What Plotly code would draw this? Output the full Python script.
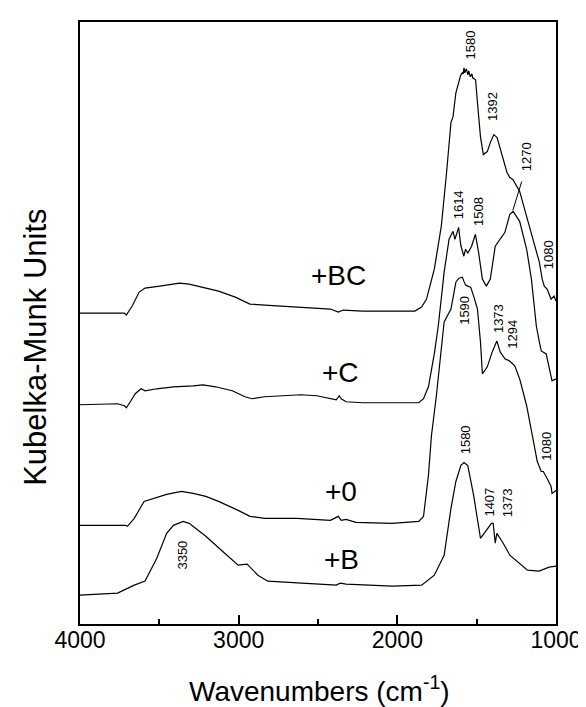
import plotly.graph_objects as go

# ---- data (wavenumber in cm^-1, Kubelka-Munk intensity in arbitrary offset units) ----
bc_wn = [4000, 3720, 3708, 3671, 3627, 3590, 3497, 3374, 3312, 3225, 3127, 3021, 2960, 2929, 2836,
         2632, 2422, 2372, 2341, 2218, 2032, 1890, 1847, 1816, 1767, 1723, 1692, 1662, 1649, 1631,
         1600, 1590, 1585, 1580, 1575, 1565, 1555, 1550, 1540, 1530, 1525, 1507, 1495, 1476, 1458,
         1433, 1414, 1392, 1371, 1340, 1309, 1291, 1272, 1229, 1185, 1148, 1105, 1087, 1074, 1056,
         1031, 1012, 1000]
bc_km = [312, 312, 310, 319, 333, 337, 339, 342, 341, 338, 334, 328, 323, 321, 320,
         318, 316, 313, 315, 314, 314, 314, 318, 326, 356, 399, 449, 503, 509, 533,
         551, 553, 552, 558, 553, 557, 551, 555, 549, 552, 548, 546, 523, 489, 471,
         474, 483, 491, 488, 469, 453, 448, 446, 434, 409, 386, 363, 346, 339, 336,
         326, 329, 324]

c_wn = [4000, 3763, 3720, 3708, 3683, 3652, 3615, 3590, 3516, 3411, 3287, 3225, 3145, 3040, 2960,
        2916, 2836, 2731, 2607, 2508, 2422, 2385, 2366, 2354, 2323, 2218, 2032, 1865, 1835, 1804,
        1767, 1742, 1705, 1674, 1649, 1637, 1625, 1614, 1600, 1581, 1570, 1556, 1532, 1508, 1488,
        1464, 1439, 1414, 1383, 1365, 1322, 1291, 1270, 1229, 1185, 1155, 1136, 1124, 1105, 1093,
        1062, 1043, 1025, 1000]
c_km = [220, 221, 219, 217, 223, 231, 236, 234, 236, 238, 239, 240, 238, 234, 228,
        226, 228, 229, 230, 229, 226, 225, 229, 226, 223, 222, 222, 222, 226, 238,
        271, 299, 353, 386, 394, 386, 392, 398, 380, 369, 376, 372, 379, 391, 373,
        346, 339, 346, 379, 383, 393, 411, 414, 404, 376, 346, 321, 299, 283, 274,
        271, 256, 244, 246]

z_wn = [4000, 3714, 3701, 3658, 3596, 3535, 3454, 3361, 3287, 3207, 3127, 3003, 2929, 2836, 2632,
        2422, 2372, 2354, 2323, 2261, 2032, 1865, 1835, 1804, 1785, 1754, 1723, 1705, 1662, 1649,
        1631, 1612, 1590, 1581, 1570, 1556, 1538, 1519, 1495, 1476, 1464, 1433, 1402, 1373, 1352,
        1322, 1294, 1260, 1229, 1185, 1148, 1118, 1093, 1080, 1056, 1031, 1025, 1000]
z_km = [99, 99, 98, 106, 123, 126, 130, 133, 131, 128, 123, 114, 108, 106, 106,
        104, 108, 104, 105, 102, 101, 103, 108, 149, 189, 229, 273, 303, 316, 326,
        343, 347, 348, 344, 340, 339, 338, 329, 316, 283, 251, 258, 273, 284, 273,
        266, 264, 259, 246, 219, 189, 163, 153, 153, 146, 138, 131, 134]

b_wn = [4000, 3763, 3658, 3590, 3516, 3454, 3411, 3350, 3312, 3207, 3102, 3003, 2947, 2929, 2879,
        2817, 2632, 2385, 2360, 2323, 2032, 1847, 1767, 1705, 1662, 1631, 1600, 1580, 1556, 1519,
        1476, 1445, 1407, 1396, 1383, 1373, 1340, 1291, 1229, 1180, 1106, 1044, 1000]
b_km = [29, 31, 39, 43, 66, 91, 99, 103, 101, 88, 73, 59, 60, 57, 49,
        43, 41, 39, 41, 40, 38, 39, 49, 69, 116, 143, 159, 162, 159, 129,
        86, 93, 101, 101, 81, 91, 83, 69, 61, 54, 53, 57, 58]

series_names = ["+BC", "+C", "+0", "+B"]
label_wn = [2372, 2360, 2354, 2354]
label_km = [350, 252, 133, 65]

peak_text = ["1580", "1392", "1270", "1614", "1508", "1080", "1590", "1373", "1294", "1080",
             "1580", "1407", "1373", "3350"]
peak_wn = [1538, 1396, 1185, 1618, 1488, 1050, 1581, 1365, 1272, 1062, 1569, 1421, 1309, 3355]
peak_km = [581, 519, 469, 421, 414, 370, 315, 306, 291, 178, 185, 122, 122, 69]

# leader line for the 1270 label
lead_wn = [1216, 1272]
lead_km = [444, 415]

FONT = "Liberation Sans, Arial, sans-serif"

fig = go.Figure()
for wn, km in [(bc_wn, bc_km), (c_wn, c_km), (z_wn, z_km), (b_wn, b_km)]:
    fig.add_trace(go.Scatter(x=wn, y=km, mode="lines",
                             line=dict(color="black", width=1.2), showlegend=False,
                             hoverinfo="skip"))
fig.add_trace(go.Scatter(x=lead_wn, y=lead_km, mode="lines",
                         line=dict(color="black", width=1), showlegend=False, hoverinfo="skip"))

for name, xw, yk in zip(series_names, label_wn, label_km):
    fig.add_annotation(x=xw, y=yk, text=name, showarrow=False,
                       font=dict(family=FONT, size=28, color="black"))

for t, xw, yk in zip(peak_text, peak_wn, peak_km):
    fig.add_annotation(x=xw, y=yk, text=t, showarrow=False, textangle=-90,
                       font=dict(family=FONT, size=13, color="black"))

fig.add_annotation(xref="paper", yref="paper", x=-0.095, y=0.46, text="Kubelka-Munk Units",
                   xanchor="center", yanchor="middle",
                   showarrow=False, textangle=-90, font=dict(family=FONT, size=31, color="black"))
fig.add_annotation(xref="paper", yref="paper", x=0.503, y=-0.141,
                   xanchor="center", yanchor="bottom",
                   text="Wavenumbers (cm<sup>-1</sup>)", showarrow=False,
                   font=dict(family=FONT, size=28, color="black"))

fig.update_layout(
    width=586, height=707,
    margin=dict(l=72, r=29, t=12, b=91),
    paper_bgcolor="white", plot_bgcolor="white",
    xaxis=dict(range=[4000, 1000], tickmode="array", tickvals=[4000, 3000, 2000, 1000],
               ticks="inside", ticklen=9, tickwidth=1.5, tickcolor="black",
               minor=dict(tickmode="array", tickvals=[3500, 2500, 1500], ticks="inside",
                          ticklen=5, tickwidth=1.5, tickcolor="black"),
               showline=True, linewidth=2, linecolor="black", mirror=True,
               showgrid=False, zeroline=False, ticklabelstandoff=-6,
               tickfont=dict(family=FONT, size=23, color="black")),
    yaxis=dict(range=[0, 604], showticklabels=False, ticks="", showline=True, linewidth=2,
               linecolor="black", mirror=True, showgrid=False, zeroline=False),
)

fig.write_html("out.html")
